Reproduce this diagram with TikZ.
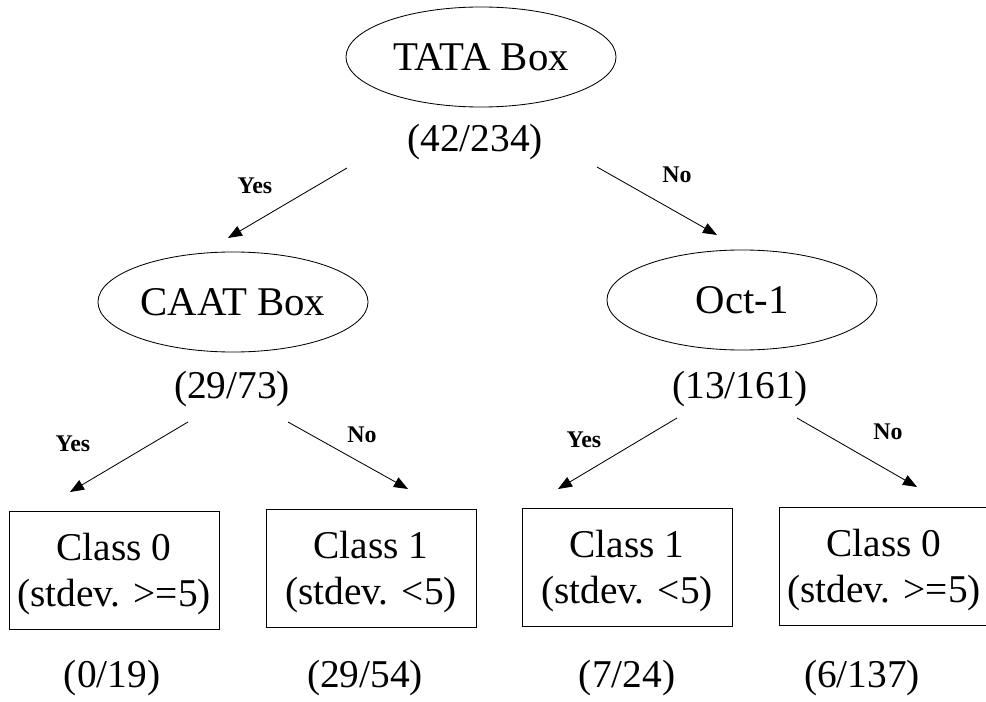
\documentclass[tikz,border=0pt]{standalone}
\usepackage{fontspec}
\setmainfont{Liberation Serif}
\usetikzlibrary{shapes.geometric,arrows.meta}

\begin{document}
\begin{tikzpicture}[x=0.025cm, y=-0.025cm, line width=0.6pt,
    test/.style={ellipse, draw, minimum width=6.75cm, minimum height=2.5cm,
        inner sep=0pt, font=\fontsize{29}{34}\selectfont},
    leaf/.style={rectangle, draw, minimum width=5.25cm, minimum height=2.95cm,
        inner sep=0pt, align=center, text depth=0pt, font=\fontsize{28}{33}\selectfont},
    count/.style={anchor=base, inner sep=0pt, font=\fontsize{28}{33}\selectfont},
    branch/.style={inner sep=0pt, font=\fontsize{17}{20}\selectfont\bfseries},
    arr/.style={-{Triangle[length=0.35cm,width=0.27cm]}}]
\useasboundingbox (0,0) rectangle (986,702);

% root
\node[test] (tata) at (481,57) {TATA Box};
\node[count] (c42) at (475,152) {(42/234)};

% second level
\node[test] (caat) at (233,302) {CAAT Box};
\node[count] (c29) at (232,398) {(29/73)};
\node[test] (oct) at (742,300) {Oct-1};
\node[count] (c13) at (740,398) {(13/161)};

% leaves
\node[leaf] (l1) at (114,570) {Class 0\\(stdev. >=5)};
\node[leaf] (l2) at (371,568) {Class 1\\(stdev. <5)};
\node[leaf] (l3) at (627,567) {Class 1\\(stdev. <5)};
\node[leaf] (l4) at (884,566) {Class 0\\(stdev. >=5)};
\node[count] (c0) at (112,687) {(0/19)};
\node[count] (c29b) at (365,687) {(29/54)};
\node[count] (c7) at (627,687) {(7/24)};
\node[count] (c6) at (862,687) {(6/137)};

% arrow ends
\coordinate (tata-y1) at (347,168); \coordinate (tata-y2) at (228,238);
\coordinate (tata-n1) at (597,167); \coordinate (tata-n2) at (717,235);
\coordinate (caat-y1) at (188,422); \coordinate (caat-y2) at (70,492);
\coordinate (caat-n1) at (288,422); \coordinate (caat-n2) at (408,489);
\coordinate (oct-y1) at (677,418); \coordinate (oct-y2) at (558,489);
\coordinate (oct-n1) at (797,418); \coordinate (oct-n2) at (917,487);

\draw[arr] (tata-y1) -- (tata-y2);
\draw[arr] (tata-n1) -- (tata-n2);
\draw[arr] (caat-y1) -- (caat-y2);
\draw[arr] (caat-n1) -- (caat-n2);
\draw[arr] (oct-y1) -- (oct-y2);
\draw[arr] (oct-n1) -- (oct-n2);

\node[branch] (yes1) at (255,186) {Yes};
\node[branch] (no1) at (677,175) {No};
\node[branch] (yes2) at (73,444) {Yes};
\node[branch] (no2) at (362,435) {No};
\node[branch] (yes3) at (584,440) {Yes};
\node[branch] (no3) at (888,432) {No};
\end{tikzpicture}
\end{document}
